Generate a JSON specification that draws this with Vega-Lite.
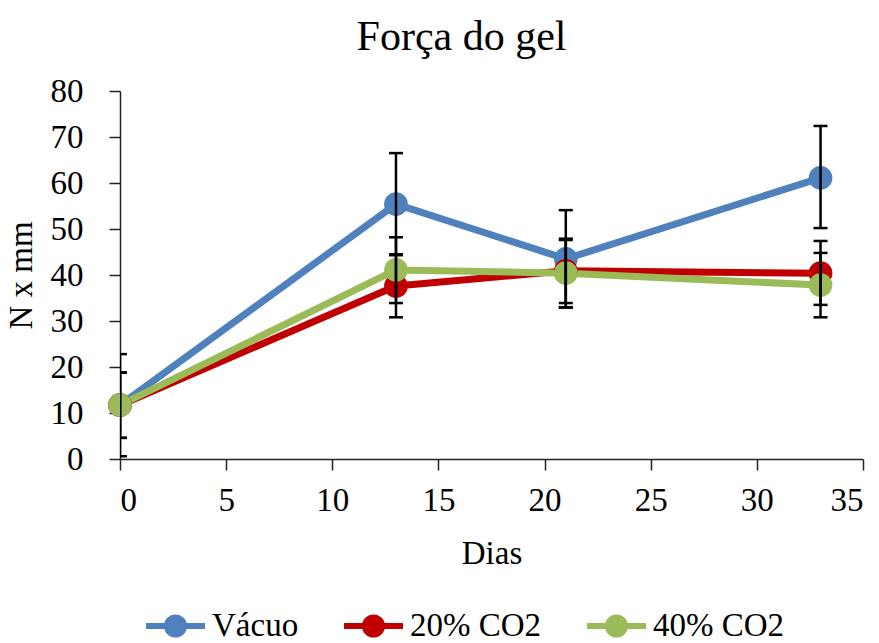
{
  "$schema": "https://vega.github.io/schema/vega-lite/v6.json",
  "width": 743,
  "height": 368,
  "autosize": {"type": "none"},
  "padding": {"left": 120, "top": 91, "right": 16, "bottom": 184},
  "background": "white",
  "title": {
    "text": "Força do gel",
    "font": "Liberation Serif",
    "fontSize": 42,
    "fontWeight": "normal",
    "color": "black",
    "anchor": "middle",
    "offset": 16,
    "dx": -30
  },
  "data": {
    "values": [
      {"serie": "Vácuo", "dia": 0, "valor": 11.7, "lo": 0.6, "hi": 22.8},
      {"serie": "Vácuo", "dia": 13, "valor": 55.4, "lo": 44.3, "hi": 66.5},
      {"serie": "Vácuo", "dia": 21, "valor": 43.5, "lo": 33.0, "hi": 54.1},
      {"serie": "Vácuo", "dia": 33, "valor": 61.1, "lo": 50.2, "hi": 72.4},
      {"serie": "20% CO2", "dia": 0, "valor": 11.7, "lo": 4.6, "hi": 18.8},
      {"serie": "20% CO2", "dia": 13, "valor": 37.6, "lo": 30.8, "hi": 44.5},
      {"serie": "20% CO2", "dia": 21, "valor": 40.9, "lo": 33.9, "hi": 47.9},
      {"serie": "20% CO2", "dia": 33, "valor": 40.4, "lo": 33.5, "hi": 47.4},
      {"serie": "40% CO2", "dia": 0, "valor": 11.7, "lo": 4.6, "hi": 18.8},
      {"serie": "40% CO2", "dia": 13, "valor": 41.1, "lo": 33.9, "hi": 48.2},
      {"serie": "40% CO2", "dia": 21, "valor": 40.4, "lo": 32.9, "hi": 47.6},
      {"serie": "40% CO2", "dia": 33, "valor": 37.8, "lo": 30.8, "hi": 44.8}
    ]
  },
  "config": {
    "view": {"stroke": null},
    "font": "Liberation Serif",
    "axis": {
      "labelFont": "Liberation Serif",
      "titleFont": "Liberation Serif",
      "labelFontSize": 33,
      "titleFontSize": 33,
      "titleFontWeight": "normal",
      "labelColor": "black",
      "titleColor": "black",
      "domainColor": "#222222",
      "tickColor": "#222222",
      "domainWidth": 1.5,
      "tickWidth": 1.5,
      "tickSize": 11,
      "grid": false
    },
    "legend": {
      "labelFont": "Liberation Serif",
      "labelFontSize": 33,
      "labelColor": "black",
      "padding": 0
    }
  },
  "layer": [
    {
      "mark": {"type": "line", "strokeWidth": 7, "strokeCap": "round", "strokeJoin": "round"},
      "encoding": {
        "x": {
          "field": "dia", "type": "quantitative",
          "scale": {"domain": [0, 35], "nice": false},
          "axis": {"title": "Dias", "values": [0, 5, 10, 15, 20, 25, 30, 35], "labelPadding": 14, "titlePadding": 20}
        },
        "y": {
          "field": "valor", "type": "quantitative",
          "scale": {"domain": [0, 80], "nice": false},
          "axis": {"title": "N x mm", "values": [0, 10, 20, 30, 40, 50, 60, 70, 80], "labelPadding": 26, "titlePadding": 12}
        },
        "color": {
          "field": "serie", "type": "nominal",
          "sort": ["Vácuo", "20% CO2", "40% CO2"],
          "scale": {"domain": ["Vácuo", "20% CO2", "40% CO2"], "range": ["#4F81BD", "#C00000", "#9BBB59"]},
          "legend": {
            "title": null,
            "orient": "none",
            "direction": "horizontal",
            "legendX": 23,
            "legendY": 502,
            "symbolType": "M-1,0L-0.29,0M0.29,0L1,0M0.29,0A0.29,0.29 0 1,1 -0.29,0A0.29,0.29 0 1,1 0.29,0",
            "symbolSize": 3481,
            "symbolStrokeWidth": 6,
            "symbolOpacity": 1,
            "labelOffset": 4,
            "columnPadding": 33
          }
        },
        "order": {"field": "dia"},
        "detail": {"field": "serie"}
      }
    },
    {
      "mark": {"type": "point", "filled": true, "shape": "circle", "size": 560, "opacity": 1},
      "encoding": {
        "x": {"field": "dia", "type": "quantitative"},
        "y": {"field": "valor", "type": "quantitative"},
        "color": {"field": "serie", "type": "nominal", "sort": ["Vácuo", "20% CO2", "40% CO2"]}
      }
    },
    {
      "mark": {"type": "rule", "color": "black", "strokeWidth": 2.5, "clip": true},
      "encoding": {
        "x": {"field": "dia", "type": "quantitative"},
        "y": {"field": "lo", "type": "quantitative"},
        "y2": {"field": "hi"}
      }
    },
    {
      "mark": {"type": "tick", "orient": "horizontal", "color": "black", "size": 14, "thickness": 2.5, "clip": true, "opacity": 1},
      "encoding": {
        "x": {"field": "dia", "type": "quantitative"},
        "y": {"field": "lo", "type": "quantitative"}
      }
    },
    {
      "mark": {"type": "tick", "orient": "horizontal", "color": "black", "size": 14, "thickness": 2.5, "clip": true, "opacity": 1},
      "encoding": {
        "x": {"field": "dia", "type": "quantitative"},
        "y": {"field": "hi", "type": "quantitative"}
      }
    }
  ]
}
